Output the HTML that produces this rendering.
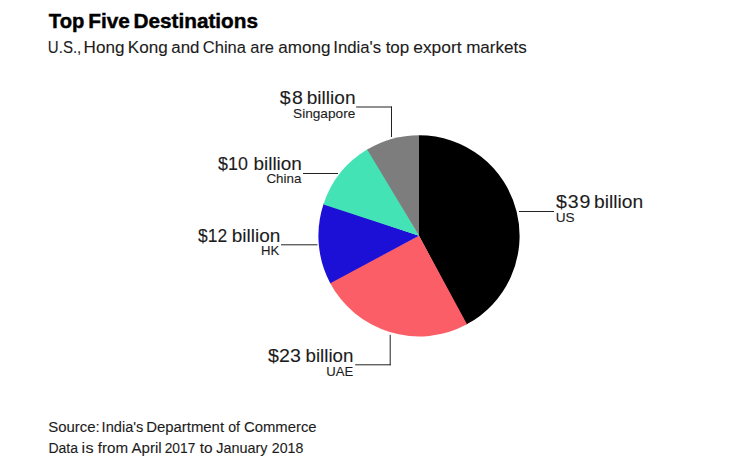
<!DOCTYPE html>
<html><head><meta charset="utf-8"><title>Top Five Destinations</title>
<style>
html,body{margin:0;padding:0;background:#fff;}
body{width:750px;height:468px;overflow:hidden;}
svg{display:block;}
text{font-family:"Liberation Sans",sans-serif;white-space:pre;}
</style></head><body>
<svg width="750" height="468" viewBox="0 0 750 468">
<rect width="750" height="468" fill="#ffffff"/>
<g>
<path d="M419 235.8L419.00 135.20A100.6 100.6 0 0 1 466.23 324.62Z" fill="#000000"/>
<path d="M419 235.8L467.00 324.21A100.6 100.6 0 0 1 329.85 282.41Z" fill="#fb5e66"/>
<path d="M419 235.8L330.26 283.18A100.6 100.6 0 0 1 323.71 203.55Z" fill="#1c0fd6"/>
<path d="M419 235.8L323.43 204.38A100.6 100.6 0 0 1 367.94 149.12Z" fill="#44e3b6"/>
<path d="M419 235.8L367.19 149.57A100.6 100.6 0 0 1 419.00 135.20Z" fill="#7d7d7d"/>
</g>
<g stroke="#222" stroke-width="1" fill="none">
<path d="M519 211.5H554"/>
<path d="M356.2 107H392"/>
<path d="M391.5 106.5V137"/>
<path d="M303 173.5H338"/>
<path d="M281 244.8H317.5"/>
<path d="M355.2 364.8H390.7"/>
<path d="M390.2 365.3V334.8"/>
</g>
<g>
<text transform="translate(48.86 28.30) scale(0.9622 1)" font-size="21" font-weight="bold" fill="#000" stroke="#000" stroke-width="0.45" letter-spacing="0.000">Top</text>
<text transform="translate(88.24 28.30) scale(0.9906 1)" font-size="21" font-weight="bold" fill="#000" stroke="#000" stroke-width="0.45" letter-spacing="0.000">Five</text>
<text transform="translate(133.44 28.30) scale(0.9891 1)" font-size="21" font-weight="bold" fill="#000" stroke="#000" stroke-width="0.45" letter-spacing="0.000">Destinations</text>
<text transform="translate(47.85 52.80) scale(0.9185 1)" font-size="16.4" font-weight="normal" fill="#1c1c1c" stroke="#1c1c1c" stroke-width="0.1" letter-spacing="0.000">U.S.,</text>
<text transform="translate(83.57 52.80) scale(1.0422 1)" font-size="16.4" font-weight="normal" fill="#1c1c1c" stroke="#1c1c1c" stroke-width="0.1" letter-spacing="0.000">Hong</text>
<text transform="translate(127.87 52.80) scale(1.0425 1)" font-size="16.4" font-weight="normal" fill="#1c1c1c" stroke="#1c1c1c" stroke-width="0.1" letter-spacing="0.000">Kong</text>
<text transform="translate(171.23 52.80) scale(1.0314 1)" font-size="16.4" font-weight="normal" fill="#1c1c1c" stroke="#1c1c1c" stroke-width="0.1" letter-spacing="-0.000">and</text>
<text transform="translate(202.82 52.80) scale(1.0071 1)" font-size="16.4" font-weight="normal" fill="#1c1c1c" stroke="#1c1c1c" stroke-width="0.1" letter-spacing="0.000">China</text>
<text transform="translate(250.25 52.80) scale(1.0022 1)" font-size="16.4" font-weight="normal" fill="#1c1c1c" stroke="#1c1c1c" stroke-width="0.1" letter-spacing="0.000">are</text>
<text transform="translate(278.22 52.80) scale(1.0419 1)" font-size="16.4" font-weight="normal" fill="#1c1c1c" stroke="#1c1c1c" stroke-width="0.1" letter-spacing="0.000">among</text>
<text transform="translate(333.27 52.80) scale(1.0212 1)" font-size="16.4" font-weight="normal" fill="#1c1c1c" stroke="#1c1c1c" stroke-width="0.1" letter-spacing="0.000">India's</text>
<text transform="translate(385.64 52.80) scale(1.0377 1)" font-size="16.4" font-weight="normal" fill="#1c1c1c" stroke="#1c1c1c" stroke-width="0.1" letter-spacing="0.000">top</text>
<text transform="translate(413.20 52.80) scale(1.0615 1)" font-size="16.4" font-weight="normal" fill="#1c1c1c" stroke="#1c1c1c" stroke-width="0.1" letter-spacing="-0.000">export</text>
<text transform="translate(466.13 52.80) scale(1.0419 1)" font-size="16.4" font-weight="normal" fill="#1c1c1c" stroke="#1c1c1c" stroke-width="0.1" letter-spacing="-0.000">markets</text>
<text transform="translate(556.12 207.60) scale(1.1200 1)" font-size="17.5" font-weight="normal" fill="#1c1c1c" stroke="#1c1c1c" stroke-width="0.1" letter-spacing="0.759">$39</text>
<text transform="translate(594.06 207.60) scale(1.0988 1)" font-size="17.5" font-weight="normal" fill="#1c1c1c" stroke="#1c1c1c" stroke-width="0.1" letter-spacing="0.000">billion</text>
<text transform="translate(555.64 221.60) scale(1.0646 1)" font-size="12.8" font-weight="normal" fill="#1c1c1c" stroke="#1c1c1c" stroke-width="0.1" letter-spacing="0.000">US</text>
<text transform="translate(279.72 103.60) scale(1.1200 1)" font-size="17.5" font-weight="normal" fill="#1c1c1c" stroke="#1c1c1c" stroke-width="0.1" letter-spacing="1.268">$8</text>
<text transform="translate(306.77 103.60) scale(1.0894 1)" font-size="17.5" font-weight="normal" fill="#1c1c1c" stroke="#1c1c1c" stroke-width="0.1" letter-spacing="0.000">billion</text>
<text transform="translate(293.03 117.60) scale(1.0678 1)" font-size="12.8" font-weight="normal" fill="#1c1c1c" stroke="#1c1c1c" stroke-width="0.1" letter-spacing="-0.000">Singapore</text>
<text transform="translate(218.05 169.60) scale(1.0195 1)" font-size="17.5" font-weight="normal" fill="#1c1c1c" stroke="#1c1c1c" stroke-width="0.1" letter-spacing="0.000">$10</text>
<text transform="translate(253.48 169.60) scale(1.0824 1)" font-size="17.5" font-weight="normal" fill="#1c1c1c" stroke="#1c1c1c" stroke-width="0.1" letter-spacing="0.000">billion</text>
<text transform="translate(266.45 183.40) scale(1.0443 1)" font-size="12.8" font-weight="normal" fill="#1c1c1c" stroke="#1c1c1c" stroke-width="0.1" letter-spacing="0.000">China</text>
<text transform="translate(198.05 241.80) scale(0.9956 1)" font-size="17.5" font-weight="normal" fill="#1c1c1c" stroke="#1c1c1c" stroke-width="0.1" letter-spacing="0.000">$12</text>
<text transform="translate(231.68 241.80) scale(1.0871 1)" font-size="17.5" font-weight="normal" fill="#1c1c1c" stroke="#1c1c1c" stroke-width="0.1" letter-spacing="0.000">billion</text>
<text transform="translate(260.97 255.40) scale(1.0286 1)" font-size="12.8" font-weight="normal" fill="#1c1c1c" stroke="#1c1c1c" stroke-width="0.1" letter-spacing="0.000">HK</text>
<text transform="translate(268.02 361.60) scale(1.1200 1)" font-size="17.5" font-weight="normal" fill="#1c1c1c" stroke="#1c1c1c" stroke-width="0.1" letter-spacing="0.089">$23</text>
<text transform="translate(305.49 361.60) scale(1.0729 1)" font-size="17.5" font-weight="normal" fill="#1c1c1c" stroke="#1c1c1c" stroke-width="0.1" letter-spacing="0.000">billion</text>
<text transform="translate(326.27 375.60) scale(1.0263 1)" font-size="12.8" font-weight="normal" fill="#1c1c1c" stroke="#1c1c1c" stroke-width="0.1" letter-spacing="0.000">UAE</text>
<text transform="translate(48.23 432.10) scale(1.0319 1)" font-size="14.5" font-weight="normal" fill="#1c1c1c" stroke="#1c1c1c" stroke-width="0.1" letter-spacing="0.000">Source:</text>
<text transform="translate(101.61 432.10) scale(1.0095 1)" font-size="14.5" font-weight="normal" fill="#1c1c1c" stroke="#1c1c1c" stroke-width="0.1" letter-spacing="0.000">India's</text>
<text transform="translate(146.21 432.10) scale(1.0286 1)" font-size="14.5" font-weight="normal" fill="#1c1c1c" stroke="#1c1c1c" stroke-width="0.1" letter-spacing="0.000">Department</text>
<text transform="translate(228.19 432.10) scale(0.9739 1)" font-size="14.5" font-weight="normal" fill="#1c1c1c" stroke="#1c1c1c" stroke-width="0.1" letter-spacing="0.000">of</text>
<text transform="translate(244.03 432.10) scale(1.0245 1)" font-size="14.5" font-weight="normal" fill="#1c1c1c" stroke="#1c1c1c" stroke-width="0.1" letter-spacing="0.000">Commerce</text>
<text transform="translate(48.39 452.80) scale(0.9668 1)" font-size="14.5" font-weight="normal" fill="#1c1c1c" stroke="#1c1c1c" stroke-width="0.1" letter-spacing="0.000">Data</text>
<text transform="translate(81.48 452.80) scale(1.1200 1)" font-size="14.5" font-weight="normal" fill="#1c1c1c" stroke="#1c1c1c" stroke-width="0.1" letter-spacing="0.286">is</text>
<text transform="translate(97.74 452.80) scale(1.0450 1)" font-size="14.5" font-weight="normal" fill="#1c1c1c" stroke="#1c1c1c" stroke-width="0.1" letter-spacing="0.000">from</text>
<text transform="translate(131.47 452.80) scale(1.0404 1)" font-size="14.5" font-weight="normal" fill="#1c1c1c" stroke="#1c1c1c" stroke-width="0.1" letter-spacing="0.000">April</text>
<text transform="translate(164.69 452.80) scale(0.9528 1)" font-size="14.5" font-weight="normal" fill="#1c1c1c" stroke="#1c1c1c" stroke-width="0.1" letter-spacing="0.000">2017</text>
<text transform="translate(199.73 452.80) scale(1.0667 1)" font-size="14.5" font-weight="normal" fill="#1c1c1c" stroke="#1c1c1c" stroke-width="0.1" letter-spacing="0.000">to</text>
<text transform="translate(216.25 452.80) scale(0.9951 1)" font-size="14.5" font-weight="normal" fill="#1c1c1c" stroke="#1c1c1c" stroke-width="0.1" letter-spacing="0.000">January</text>
<text transform="translate(271.77 452.80) scale(0.9781 1)" font-size="14.5" font-weight="normal" fill="#1c1c1c" stroke="#1c1c1c" stroke-width="0.1" letter-spacing="0.000">2018</text>
</g>
</svg>
</body></html>
